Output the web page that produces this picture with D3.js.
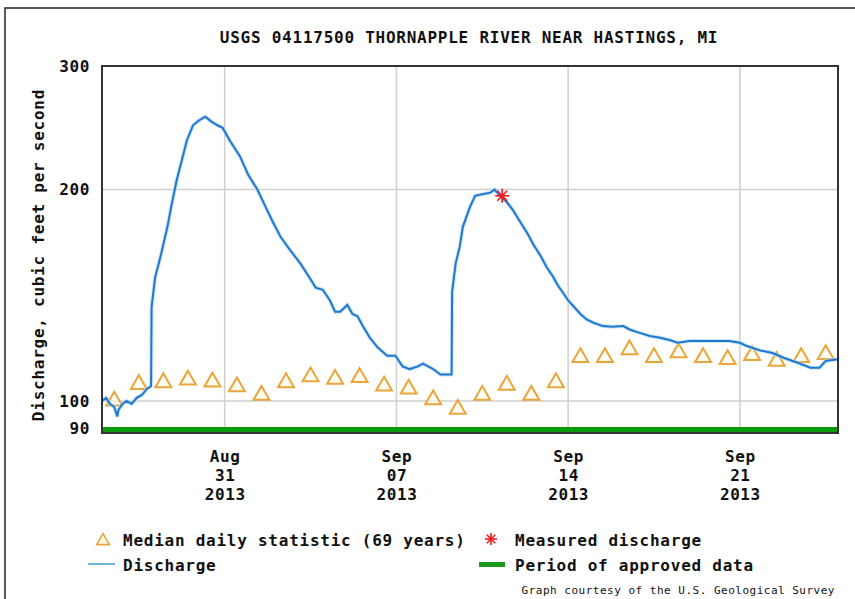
<!DOCTYPE html>
<html>
<head>
<meta charset="utf-8">
<script src="https://cdn.jsdelivr.net/npm/d3@7"></script>
<style>
  html, body { margin: 0; padding: 0; background: #fff; }
  svg { display: block; }
  text { font-family: "DejaVu Sans Mono", "Liberation Mono", monospace; fill: #111; }
</style>
</head>
<body>
<svg id="chart" width="855" height="599"></svg>
<script>
// ---------------- data ----------------
const chartTitle = "USGS 04117500 THORNAPPLE RIVER NEAR HASTINGS, MI";
const yAxisLabel = "Discharge, cubic feet per second";
const yTickValues = [90, 100, 200, 300];
const xTickDates = ["2013-08-31", "2013-09-07", "2013-09-14", "2013-09-21"];
const xTickLabels = [["Aug", "31", "2013"], ["Sep", "07", "2013"], ["Sep", "14", "2013"], ["Sep", "21", "2013"]];
const xDomain = ["2013-08-26T00:00", "2013-09-25T00:00"];

const dischargeTimes = [
  "2013-08-26T00:00","2013-08-26T04:00","2013-08-26T08:00","2013-08-26T12:00","2013-08-26T15:00","2013-08-26T16:00",
  "2013-08-26T20:00","2013-08-27T00:00","2013-08-27T05:00","2013-08-27T10:00","2013-08-27T15:00","2013-08-27T20:00",
  "2013-08-28T00:00","2013-08-28T00:30","2013-08-28T04:00","2013-08-28T09:00","2013-08-28T16:00","2013-08-28T20:00",
  "2013-08-29T01:00","2013-08-29T06:00","2013-08-29T11:00","2013-08-29T17:00","2013-08-29T23:00","2013-08-30T05:00",
  "2013-08-30T11:00","2013-08-30T17:00","2013-08-30T22:00","2013-08-31T05:00","2013-08-31T15:00","2013-08-31T23:00",
  "2013-09-01T08:00","2013-09-01T16:00","2013-09-01T23:00","2013-09-02T07:00","2013-09-02T16:00","2013-09-03T02:00",
  "2013-09-03T12:00","2013-09-03T17:00","2013-09-04T00:00","2013-09-04T07:00","2013-09-04T12:00","2013-09-04T17:00",
  "2013-09-05T00:00","2013-09-05T05:00","2013-09-05T10:00","2013-09-05T15:00","2013-09-05T22:00","2013-09-06T06:00",
  "2013-09-06T15:00","2013-09-06T23:00","2013-09-07T06:00","2013-09-07T13:00","2013-09-07T21:00","2013-09-08T02:00",
  "2013-09-08T07:00","2013-09-08T12:00","2013-09-08T19:00","2013-09-09T06:00","2013-09-09T06:30","2013-09-09T10:00",
  "2013-09-09T14:00","2013-09-09T17:00","2013-09-10T00:00","2013-09-10T05:00","2013-09-10T12:00","2013-09-10T20:00",
  "2013-09-11T00:00","2013-09-11T07:00","2013-09-11T12:00","2013-09-11T18:00","2013-09-12T01:00","2013-09-12T08:00",
  "2013-09-12T14:00","2013-09-12T21:00","2013-09-13T03:00","2013-09-13T09:00","2013-09-13T14:00","2013-09-13T19:00",
  "2013-09-14T00:00","2013-09-14T05:00","2013-09-14T12:00","2013-09-14T18:00","2013-09-15T02:00","2013-09-15T10:00",
  "2013-09-15T19:00","2013-09-16T06:00","2013-09-16T12:00","2013-09-16T22:00","2013-09-17T08:00","2013-09-17T18:00",
  "2013-09-18T04:00","2013-09-18T11:00","2013-09-18T23:00","2013-09-19T12:00","2013-09-20T01:00","2013-09-20T14:00",
  "2013-09-21T00:00","2013-09-21T07:00","2013-09-21T20:00","2013-09-22T08:00","2013-09-22T20:00","2013-09-23T08:00",
  "2013-09-23T21:00","2013-09-24T06:00","2013-09-24T12:00","2013-09-25T00:00"
];
const dischargeValues = [
  100, 101, 99, 98, 95, 97,
  99, 100, 99, 101, 102, 104,
  105, 136, 150, 160, 177, 190,
  206, 220, 235, 247, 251, 254,
  250, 247, 245, 235, 223, 210,
  200, 189, 180, 171, 164, 157,
  149, 145, 144, 139, 134, 134,
  137, 133, 132, 128, 123, 119,
  116, 116, 112, 111, 112, 113,
  112, 111, 109, 109, 143, 157,
  166, 177, 189, 196, 197, 198,
  200, 195, 192, 187, 180, 173.5,
  167, 161, 155, 150.5, 146, 142.6,
  139, 136.5, 133, 130.6, 129, 127.8,
  127.5, 127.8, 126.4, 125, 123.7, 123,
  122, 121, 121.7, 121.7, 121.7, 121.7,
  121, 119.7, 118, 117, 115, 113.4,
  111.5, 111.5, 114, 114.6
];

const medianDates = [
  "2013-08-26","2013-08-27","2013-08-28","2013-08-29","2013-08-30","2013-08-31","2013-09-01","2013-09-02",
  "2013-09-03","2013-09-04","2013-09-05","2013-09-06","2013-09-07","2013-09-08","2013-09-09","2013-09-10",
  "2013-09-11","2013-09-12","2013-09-13","2013-09-14","2013-09-15","2013-09-16","2013-09-17","2013-09-18",
  "2013-09-19","2013-09-20","2013-09-21","2013-09-22","2013-09-23","2013-09-24"
];
const medianValues = [
  100, 105.6, 106.2, 107.1, 106.4, 104.8, 101.9, 106.2,
  108.3, 107.4, 108, 105, 104, 100.4, 97.3, 101.9,
  105.3, 101.9, 106.2, 115.3, 115.3, 118.3, 115.3, 117.1,
  115.3, 114.6, 116.1, 113.9, 115.3, 116.5
];

const measuredTimes = ["2013-09-11T07:30"];
const measuredValues = [196];

const legendLabels = ["Median daily statistic (69 years)", "Measured discharge", "Discharge", "Period of approved data"];
const creditText = "Graph courtesy of the U.S. Geological Survey";

// ---------------- drawing ----------------
const svg = d3.select("#chart");
const L = 102, R = 838, T = 66, B = 433;

const x = d3.scaleTime().domain(xDomain.map(s => new Date(s))).range([L, R]);
const y = d3.scaleLog().domain([90, 300]).range([B, T]);

// outer frame
svg.append("rect").attr("x", 5).attr("y", 8).attr("width", 860).attr("height", 600)
  .attr("fill", "none").attr("stroke", "#222").attr("stroke-width", 1.5);

// title
svg.append("text").attr("x", 469).attr("y", 37).attr("text-anchor", "middle")
  .attr("dominant-baseline", "central").attr("font-size", 16).attr("font-weight", "bold")
  .attr("letter-spacing", 0.75).text(chartTitle);

// gridlines
const gy = svg.append("g");
gy.selectAll("line.h").data([100, 200]).join("line")
  .attr("x1", L).attr("x2", R).attr("y1", d => y(d)).attr("y2", d => y(d))
  .attr("stroke", "#cfcfcf").attr("stroke-width", 1.5);
gy.selectAll("line.v").data(xTickDates).join("line")
  .attr("x1", d => x(new Date(d + "T00:00"))).attr("x2", d => x(new Date(d + "T00:00")))
  .attr("y1", T).attr("y2", B).attr("stroke", "#cfcfcf").attr("stroke-width", 1.5);

// approved data bar
svg.append("rect").attr("x", L).attr("width", R - L).attr("y", B - 6).attr("height", 6)
  .attr("fill", "#0b9a0b");

// median triangles
const tri = d3.symbol().type(d3.symbolTriangle).size(110);
svg.append("g").selectAll("path").data(medianDates).join("path")
  .attr("d", tri)
  .attr("transform", (d, i) => `translate(${x(new Date(d + "T12:00"))},${y(medianValues[i])})`)
  .attr("fill", "#fffbe8").attr("fill-opacity", 0.6)
  .attr("stroke", "#eaa53a").attr("stroke-width", 2);

// discharge line
const pts = dischargeTimes.map((t, i) => [new Date(t), dischargeValues[i]]);
const line = d3.line().x(d => x(d[0])).y(d => y(d[1]));
svg.append("path").datum(pts).attr("d", line)
  .attr("fill", "none").attr("stroke", "#b8dbf3").attr("stroke-width", 4).attr("opacity", 0.7);
svg.append("path").datum(pts).attr("d", line)
  .attr("fill", "none").attr("stroke", "#1f78cf").attr("stroke-width", 2);

// measured discharge star
function star(g, cx, cy, r) {
  for (let k = 0; k < 4; k++) {
    const a = k * Math.PI / 4;
    g.append("line").attr("x1", cx - r * Math.cos(a)).attr("y1", cy - r * Math.sin(a))
      .attr("x2", cx + r * Math.cos(a)).attr("y2", cy + r * Math.sin(a))
      .attr("stroke", "#f01818").attr("stroke-width", 1.6);
  }
}
measuredTimes.forEach((t, i) => star(svg.append("g"), x(new Date(t)), y(measuredValues[i]), 7));

// plot frame
svg.append("rect").attr("x", L).attr("y", T).attr("width", R - L).attr("height", B - T)
  .attr("fill", "none").attr("stroke", "#333").attr("stroke-width", 2);

// y axis
const yAxis = d3.axisLeft(y).tickValues(yTickValues).tickSize(0).tickPadding(12).tickFormat(d3.format("d"));
const yg = svg.append("g").attr("transform", `translate(${L},0)`).call(yAxis);
yg.select(".domain").remove();
yg.selectAll("text").attr("font-size", 16).attr("font-weight", "bold").attr("letter-spacing", 0.6)
  .attr("fill", "#111").attr("font-family", "DejaVu Sans Mono")
  .attr("dy", d => d === 90 ? "0.05em" : "0.32em");

// x axis
const xAxis = d3.axisBottom(x).tickValues(xTickDates.map(d => new Date(d + "T00:00"))).tickSize(0).tickFormat("");
const xg = svg.append("g").attr("transform", `translate(0,${B})`).call(xAxis);
xg.select(".domain").remove();
xg.selectAll(".tick").each(function(d, i) {
  const t = d3.select(this).select("text").attr("y", 0).attr("dy", null)
    .attr("font-size", 16).attr("font-weight", "bold").attr("fill", "#111")
    .attr("font-family", "DejaVu Sans Mono").attr("letter-spacing", 0.6);
  xTickLabels[i].forEach((s, j) => {
    t.append("tspan").attr("x", 0).attr("y", 23 + j * 19).attr("dominant-baseline", "central").text(s);
  });
});

// y label
svg.append("text").attr("transform", "translate(38,255) rotate(-90)")
  .attr("text-anchor", "middle").attr("dominant-baseline", "central")
  .attr("font-size", 16).attr("font-weight", "bold").attr("letter-spacing", 0.75).text(yAxisLabel);

// legend
const lg = svg.append("g");
lg.append("path").attr("d", d3.symbol().type(d3.symbolTriangle).size(70))
  .attr("transform", "translate(103,541)").attr("fill", "#fffbe8").attr("stroke", "#eaa53a").attr("stroke-width", 1.6);
lg.append("text").attr("x", 123).attr("y", 540).attr("dominant-baseline", "central")
  .attr("font-size", 16).attr("font-weight", "bold").attr("letter-spacing", 0.75).text(legendLabels[0]);
star(lg, 491, 539, 6);
lg.append("text").attr("x", 515).attr("y", 540).attr("dominant-baseline", "central")
  .attr("font-size", 16).attr("font-weight", "bold").attr("letter-spacing", 0.75).text(legendLabels[1]);
lg.append("line").attr("x1", 88).attr("x2", 115).attr("y1", 564).attr("y2", 564)
  .attr("stroke", "#6fb3dc").attr("stroke-width", 2);
lg.append("text").attr("x", 123).attr("y", 565).attr("dominant-baseline", "central")
  .attr("font-size", 16).attr("font-weight", "bold").attr("letter-spacing", 0.75).text(legendLabels[2]);
lg.append("rect").attr("x", 479).attr("y", 562).attr("width", 26).attr("height", 5).attr("fill", "#1a9a1a");
lg.append("text").attr("x", 515).attr("y", 565).attr("dominant-baseline", "central")
  .attr("font-size", 16).attr("font-weight", "bold").attr("letter-spacing", 0.75).text(legendLabels[3]);

// credit
svg.append("text").attr("x", 835).attr("y", 590).attr("text-anchor", "end").attr("dominant-baseline", "central")
  .attr("font-size", 11).attr("letter-spacing", 0.5).text(creditText);
</script>
</body>
</html>
